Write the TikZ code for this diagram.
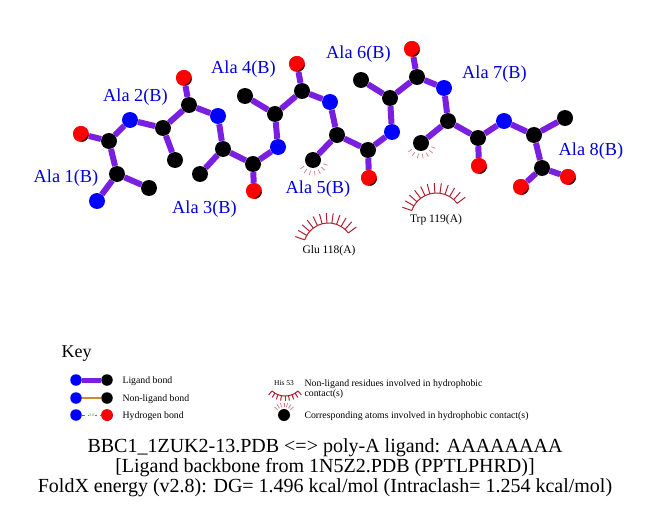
\documentclass[tikz,border=0pt]{standalone}
\usepackage{fontspec}
\setmainfont{Liberation Serif}
\definecolor{bondpurple}{HTML}{7A1FE0}
\definecolor{bondorange}{HTML}{C88A2A}
\definecolor{hbgreen}{HTML}{2E9A3A}
\definecolor{eyered}{HTML}{B02030}
\tikzset{
	atom/.style={circle,inner sep=0pt,minimum size=16pt},
	nit/.style={atom,fill=blue},
	car/.style={atom,fill=black},
	oxy/.style={atom,fill=red,path picture={\fill[black!75!red] (path picture bounding box.south east) circle (7pt);\fill[red] (path picture bounding box.center)++(-.6pt,.8pt) circle (7.4pt);}},
	keyatom/.style={minimum size=11.5pt},
	ligbond/.style={line width=6pt,color=bondpurple},
	spoke/.style={color=eyered,line width=1pt},
	reslabel/.style={font=\fontsize{18.3}{20}\selectfont,color=blue!85!black},
	eyelabel/.style={font=\fontsize{11.5}{12}\selectfont},
	keylabel/.style={font=\fontsize{9.8}{12}\selectfont,align=left,anchor=west},
	titlelabel/.style={font=\fontsize{20}{22}\selectfont}
}
% arc with spokes: centre, radius, first angle, last angle, number of spokes, spoke length
\newcommand{\eyebrow}[6]{
	\begin{scope}[shift={#1}]
	\draw[spoke] (#3:#2) arc[start angle=#3,end angle=#4,radius=#2];
	\foreach \i in {0,...,#5}
		\draw[spoke] ({#3+(#4-#3)*\i/#5}:#2) -- ({#3+(#4-#3)*\i/#5}:#2+#6);
	\end{scope}
}
% short rays next to an atom: atom, first angle, last angle, radius
\newcommand{\atomfan}[4]{
	\foreach \i in {0,...,6}
		\draw[eyered!60,line width=.7pt] (#1) ++({#2+(#3-#2)*\i/6}:#4) -- ++({#2+(#3-#2)*\i/6}:4.5);
}
\begin{document}
\begin{tikzpicture}[x=1pt,y=-1pt]
	\useasboundingbox (0,0) rectangle (651,511);
	% ligand atoms
	\foreach \n/\s/\x/\y in {
		na/nit/97/201,caa/car/117/174,cba/car/149/188,ca/car/109/141,oa/oxy/81/134,
		nb/nit/130/120,cab/car/163/128,cbb/car/175/160,cb/car/189/105,ob/oxy/184/78,
		nc/nit/218/116,cac/car/223/149,cbc/car/200/174,cc/car/253/164,oc/oxy/254/191,
		nd/nit/278/147,cad/car/275/114,cbd/car/245/96,cd/car/302/91,od/oxy/297/64,
		ne/nit/330/102,cae/car/337/135,cbe/car/313/160,ce/car/368/150,oe/oxy/369/178,
		nf/nit/392/132,caf/car/390/98,cbf/car/361/80,cf/car/417/77,of/oxy/412/49,
		ng/nit/444/88,cag/car/448/121,cbg/car/421/143,cg/car/478/138,og/oxy/479/166,
		nh/nit/504/121,cah/car/534/135,cbh/car/565/118,ch/car/542/168,oh/oxy/521/187,oi/oxy/568/177}
		\node[\s] (\n) at (\x,\y) {};
	% ligand bonds
	\foreach \a/\b in {na/caa,caa/cba,caa/ca,ca/oa,ca/nb,nb/cab,cab/cbb,cab/cb,cb/ob,cb/nc,
		nc/cac,cac/cbc,cac/cc,cc/oc,cc/nd,nd/cad,cad/cbd,cad/cd,cd/od,cd/ne,
		ne/cae,cae/cbe,cae/ce,ce/oe,ce/nf,nf/caf,caf/cbf,caf/cf,cf/of,cf/ng,
		ng/cag,cag/cbg,cag/cg,cg/og,cg/nh,nh/cah,cah/cbh,cah/ch,ch/oh,ch/oi}
		\draw[ligbond] (\a) -- (\b);
	\atomfan{cbe}{-215}{-340}{11}
	\atomfan{cbg}{-215}{-340}{11}
	% residue labels
	\node[reslabel] (alaa) at (66,178) {Ala 1(B)};
	\node[reslabel] (alab) at (135.5,97) {Ala 2(B)};
	\node[reslabel] (alac) at (204.5,209) {Ala 3(B)};
	\node[reslabel] (alad) at (243.5,69) {Ala 4(B)};
	\node[reslabel] (alae) at (318,189) {Ala 5(B)};
	\node[reslabel] (alaf) at (358.5,54) {Ala 6(B)};
	\node[reslabel] (alag) at (494.5,74) {Ala 7(B)};
	\node[reslabel] (alah) at (591,151) {Ala 8(B)};
	% contact residues
	\eyebrow{(328.4,248)}{25}{-37}{-161}{11}{10}
	\node[eyelabel] (glu) at (329,251) {Glu 118(A)};
	\eyebrow{(436.4,219)}{26}{-37}{-161}{11}{10}
	\node[eyelabel] (trp) at (436,220) {Trp 119(A)};
	% key
	\node[font=\fontsize{18}{20}\selectfont,anchor=west] (key) at (58,354) {Key};
	\node[nit,keyatom] (ka) at (76,380) {};
	\node[car,keyatom] (kb) at (107,380) {};
	\draw[ligbond,line width=5pt] (ka) -- (kb);
	\node[keylabel] (kc) at (119,381) {Ligand bond};
	\node[nit,keyatom] (kd) at (76,398) {};
	\node[car,keyatom] (ke) at (107,398) {};
	\draw[color=bondorange,line width=2.5pt] (kd) -- (ke);
	\node[keylabel] (kf) at (119,399) {Non-ligand bond};
	\node[nit,keyatom] (kg) at (76,415) {};
	\node[oxy,keyatom] (kh) at (107,415) {};
	\draw[color=hbgreen,dashed,line width=1pt] (kg) -- node[fill=white,inner sep=.5pt,font=\fontsize{4}{4}\selectfont] {3.0} (kh);
	\node[keylabel] (ki) at (119,416) {Hydrogen bond};
	\node[font=\fontsize{7.5}{8}\selectfont] (his) at (284,383) {His 53};
	\eyebrow{(285,376.6)}{19.4}{-228}{-312}{8}{5}
	\node[keylabel] (kj) at (301,389) {Non-ligand residues involved in hydrophobic\\[-1.5pt]contact(s)};
	\node[car,minimum size=12pt] (kk) at (284,415) {};
	\atomfan{kk}{-40}{-140}{8}
	\node[keylabel] (kl) at (301,416) {Corresponding atoms involved in hydrophobic contact(s)};
	% title lines
	\node[titlelabel] (ta) at (325,447.5) {BBC1\_1ZUK2-13.PDB <=> poly-A ligand: AAAAAAAA};
	\node[titlelabel] (tb) at (325,467.5) {[Ligand backbone from 1N5Z2.PDB (PPTLPHRD)]};
	\node[titlelabel] (tc) at (325,487.5) {FoldX energy (v2.8): DG= 1.496 kcal/mol (Intraclash= 1.254 kcal/mol)};
\end{tikzpicture}
\end{document}
